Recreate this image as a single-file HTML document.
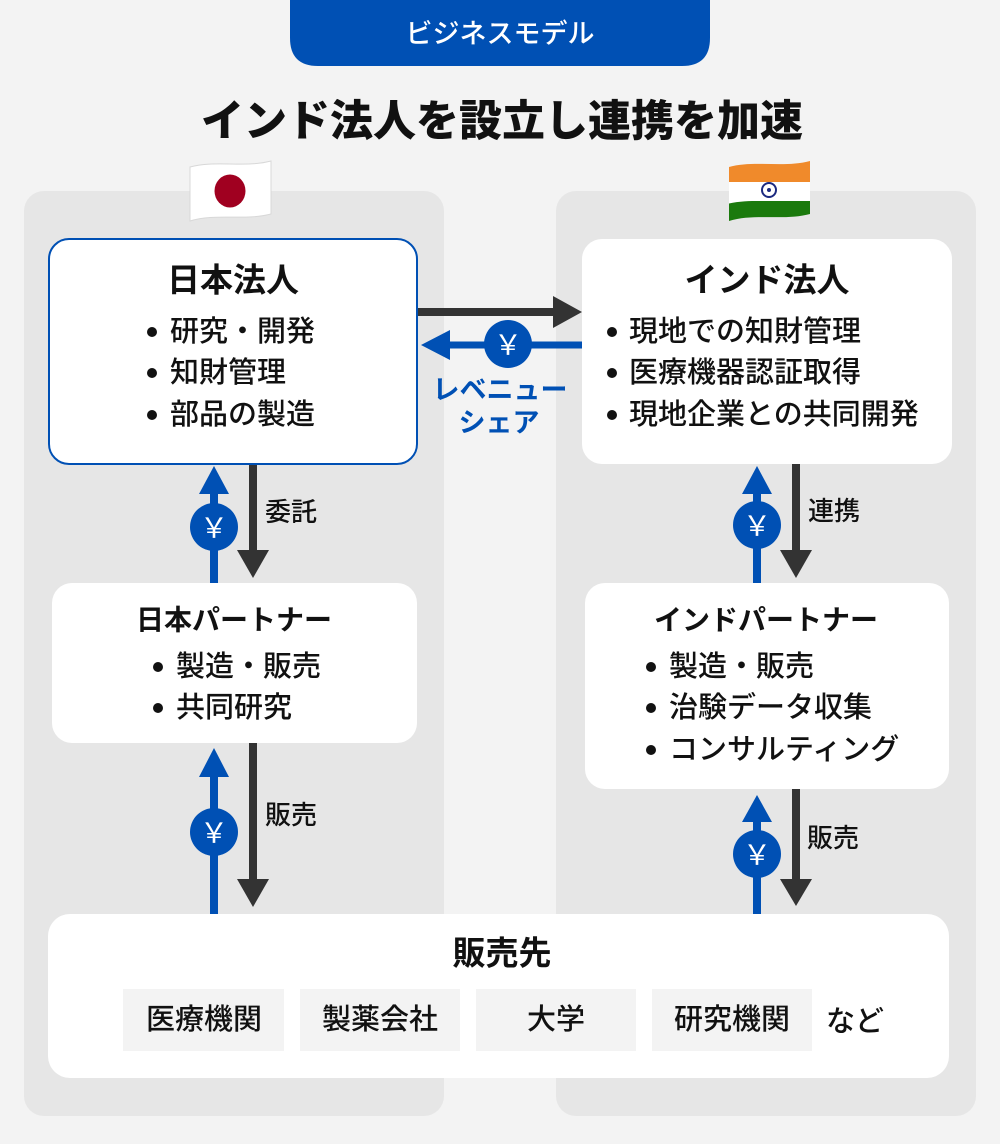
<!DOCTYPE html>
<html><head><meta charset="utf-8">
<style>
html,body{margin:0;padding:0;background:#f3f3f3;}
svg{display:block;}
text{font-family:"Liberation Sans","Noto Sans CJK JP",sans-serif;}
</style></head>
<body>
<svg width="1000" height="1144" viewBox="0 0 1000 1144" xmlns="http://www.w3.org/2000/svg">
<defs>
<clipPath id="wave1"><path d="M190,167 C215,160 245,168 271,161 L271,214 C245,221 215,213 190,221 Z"/></clipPath>
<clipPath id="wave2"><path d="M729,167 C754,160 784,168 810,161 L810,214 C784,221 754,213 729,221 Z"/></clipPath>
</defs>
<rect width="1000" height="1144" fill="#f3f3f3"/>
<!-- tab -->
<path d="M290,0 H710 V38 Q710,66 682,66 H318 Q290,66 290,38 Z" fill="#0050b4"/>
<text x="500" y="34" font-size="27" fill="#fff" text-anchor="middle" dominant-baseline="central" font-weight="500">ビジネスモデル</text>
<!-- title -->
<text x="502" y="122" font-size="43" font-weight="900" fill="#111" text-anchor="middle" dominant-baseline="central">インド法人を設立し連携を加速</text>
<!-- panels -->
<rect x="24" y="191" width="420" height="925" rx="20" fill="#e6e6e6"/>
<rect x="556" y="191" width="420" height="925" rx="20" fill="#e6e6e6"/>
<!-- flags -->
<g clip-path="url(#wave1)">
<rect x="188" y="158" width="86" height="66" fill="#fff"/>
<ellipse cx="230" cy="191" rx="15.5" ry="16.5" fill="#a00020"/>
</g>
<path d="M190,167 C215,160 245,168 271,161 L271,214 C245,221 215,213 190,221 Z" fill="none" stroke="#d8d8d8" stroke-width="1"/>
<g clip-path="url(#wave2)">
<rect x="727" y="155" width="86" height="27" fill="#f08a2b"/>
<rect x="727" y="182" width="86" height="19" fill="#fff"/>
<rect x="727" y="201" width="86" height="25" fill="#1b7a0d"/>
<path d="M727,182 C754,175 784,183 813,176 L813,182 Z" fill="#f08a2b"/>
<path d="M727,204 C754,197 784,205 813,197 L813,201 L727,201 Z" fill="#fff"/>
<circle cx="769" cy="190" r="7" fill="none" stroke="#1c2a80" stroke-width="2"/>
<circle cx="769" cy="190" r="2" fill="#1c2a80"/>
</g>

<!-- horizontal arrows -->
<line x1="418" y1="312" x2="556" y2="312" stroke="#333" stroke-width="8"/>
<polygon points="553,296 582,312 553,328" fill="#333"/>
<line x1="448" y1="345" x2="582" y2="345" stroke="#0050b4" stroke-width="7"/>
<polygon points="450,330 421,345 450,360" fill="#0050b4"/>
<circle cx="508" cy="344" r="24" fill="#0050b4"/>
<text x="508" y="345" font-size="28" fill="#fff" text-anchor="middle" dominant-baseline="central" font-family="'Noto Sans CJK JP',sans-serif">￥</text>
<text x="500" y="390" font-size="27" font-weight="700" fill="#0050b4" text-anchor="middle" dominant-baseline="central">レベニュー</text>
<text x="499" y="423" font-size="27" font-weight="700" fill="#0050b4" text-anchor="middle" dominant-baseline="central">シェア</text>

<!-- left top vertical -->
<line x1="214" y1="490" x2="214" y2="584" stroke="#0050b4" stroke-width="8"/>
<polygon points="199,494 214,466 229,494" fill="#0050b4"/>
<circle cx="214" cy="527" r="24" fill="#0050b4"/>
<text x="214" y="528" font-size="28" fill="#fff" text-anchor="middle" dominant-baseline="central" font-family="'Noto Sans CJK JP',sans-serif">￥</text>
<line x1="253" y1="464" x2="253" y2="553" stroke="#333" stroke-width="8"/>
<polygon points="237,550 253,578 269,550" fill="#333"/>
<text x="265" y="512" font-size="26" fill="#111" dominant-baseline="central" font-weight="500">委託</text>

<!-- left bottom vertical -->
<line x1="214" y1="774" x2="214" y2="915" stroke="#0050b4" stroke-width="8"/>
<polygon points="199,777 214,748 229,777" fill="#0050b4"/>
<circle cx="214" cy="832" r="24" fill="#0050b4"/>
<text x="214" y="833" font-size="28" fill="#fff" text-anchor="middle" dominant-baseline="central" font-family="'Noto Sans CJK JP',sans-serif">￥</text>
<line x1="253" y1="743" x2="253" y2="882" stroke="#333" stroke-width="8"/>
<polygon points="237,879 253,907 269,879" fill="#333"/>
<text x="265" y="815" font-size="26" fill="#111" dominant-baseline="central" font-weight="500">販売</text>

<!-- right top vertical -->
<line x1="757" y1="490" x2="757" y2="584" stroke="#0050b4" stroke-width="8"/>
<polygon points="742,494 757,466 772,494" fill="#0050b4"/>
<circle cx="757" cy="525" r="24" fill="#0050b4"/>
<text x="757" y="526" font-size="28" fill="#fff" text-anchor="middle" dominant-baseline="central" font-family="'Noto Sans CJK JP',sans-serif">￥</text>
<line x1="796" y1="464" x2="796" y2="553" stroke="#333" stroke-width="8"/>
<polygon points="780,550 796,578 812,550" fill="#333"/>
<text x="808" y="511" font-size="26" fill="#111" dominant-baseline="central" font-weight="500">連携</text>

<!-- right bottom vertical -->
<line x1="757" y1="819" x2="757" y2="915" stroke="#0050b4" stroke-width="8"/>
<polygon points="742,822 757,795 772,822" fill="#0050b4"/>
<circle cx="757" cy="854" r="24" fill="#0050b4"/>
<text x="757" y="855" font-size="28" fill="#fff" text-anchor="middle" dominant-baseline="central" font-family="'Noto Sans CJK JP',sans-serif">￥</text>
<line x1="796" y1="789" x2="796" y2="882" stroke="#333" stroke-width="8"/>
<polygon points="780,879 796,906 812,879" fill="#333"/>
<text x="807" y="838" font-size="26" fill="#111" dominant-baseline="central" font-weight="500">販売</text>

<!-- 日本法人 -->
<rect x="49" y="239" width="368" height="225" rx="20" fill="#fff" stroke="#0050b4" stroke-width="2"/>
<text x="233" y="280" font-size="33" font-weight="700" fill="#111" text-anchor="middle" dominant-baseline="central">日本法人</text>
<g font-size="29" fill="#111" font-weight="500">
<circle cx="152" cy="332" r="5" fill="#111"/><text x="170" y="332" dominant-baseline="central">研究・開発</text>
<circle cx="152" cy="373" r="5" fill="#111"/><text x="170" y="373" dominant-baseline="central">知財管理</text>
<circle cx="152" cy="415" r="5" fill="#111"/><text x="170" y="415" dominant-baseline="central">部品の製造</text>
</g>

<!-- インド法人 -->
<rect x="582" y="239" width="370" height="225" rx="20" fill="#fff"/>
<text x="767" y="280" font-size="33" font-weight="700" fill="#111" text-anchor="middle" dominant-baseline="central">インド法人</text>
<g font-size="29" fill="#111" font-weight="500">
<circle cx="612" cy="332" r="5" fill="#111"/><text x="629" y="332" dominant-baseline="central">現地での知財管理</text>
<circle cx="612" cy="373" r="5" fill="#111"/><text x="629" y="373" dominant-baseline="central">医療機器認証取得</text>
<circle cx="612" cy="415" r="5" fill="#111"/><text x="629" y="415" dominant-baseline="central">現地企業との共同開発</text>
</g>

<!-- 日本パートナー -->
<rect x="52" y="583" width="365" height="160" rx="20" fill="#fff"/>
<text x="234" y="620" font-size="28" font-weight="700" fill="#111" text-anchor="middle" dominant-baseline="central">日本パートナー</text>
<g font-size="29" fill="#111" font-weight="500">
<circle cx="158" cy="667" r="5" fill="#111"/><text x="176" y="667" dominant-baseline="central">製造・販売</text>
<circle cx="158" cy="708" r="5" fill="#111"/><text x="176" y="708" dominant-baseline="central">共同研究</text>
</g>

<!-- インドパートナー -->
<rect x="585" y="583" width="364" height="206" rx="20" fill="#fff"/>
<text x="766" y="620" font-size="28" font-weight="700" fill="#111" text-anchor="middle" dominant-baseline="central">インドパートナー</text>
<g font-size="29" fill="#111" font-weight="500">
<circle cx="651" cy="667" r="5" fill="#111"/><text x="669" y="667" dominant-baseline="central">製造・販売</text>
<circle cx="651" cy="708" r="5" fill="#111"/><text x="669" y="708" dominant-baseline="central">治験データ収集</text>
<circle cx="651" cy="750" r="5" fill="#111"/><text x="669" y="750" dominant-baseline="central">コンサルティング</text>
</g>

<!-- 販売先 -->
<rect x="48" y="914" width="901" height="164" rx="22" fill="#fff"/>
<text x="502" y="953" font-size="33" font-weight="700" fill="#111" text-anchor="middle" dominant-baseline="central">販売先</text>
<rect x="123" y="989" width="161" height="62" fill="#f3f3f3"/>
<rect x="300" y="989" width="160" height="62" fill="#f3f3f3"/>
<rect x="476" y="989" width="160" height="62" fill="#f3f3f3"/>
<rect x="652" y="989" width="160" height="62" fill="#f3f3f3"/>
<g font-size="29" fill="#111" font-weight="500" text-anchor="middle">
<text x="204" y="1020" dominant-baseline="central">医療機関</text>
<text x="380" y="1020" dominant-baseline="central">製薬会社</text>
<text x="556" y="1020" dominant-baseline="central">大学</text>
<text x="732" y="1020" dominant-baseline="central">研究機関</text>
</g>
<text x="826" y="1022" font-size="29" fill="#111" font-weight="500" dominant-baseline="central">など</text>
</svg>
</body></html>
